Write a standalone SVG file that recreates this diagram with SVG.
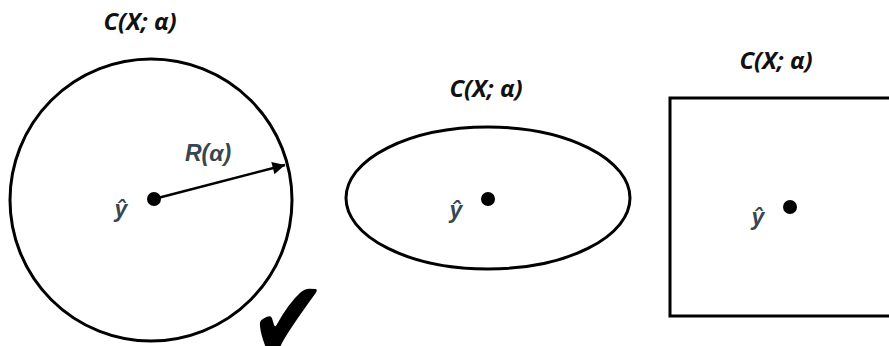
<svg xmlns="http://www.w3.org/2000/svg" width="889" height="346" viewBox="0 0 889 346">
<style>
.shape{fill:none;stroke:#000;stroke-width:3}
.dot{fill:#000}
.title{font-family:"Open Sans",sans-serif;font-weight:bold;font-style:italic;font-size:24px;fill:#111;text-anchor:middle}
.lbl{font-family:"Liberation Sans",Arial,sans-serif;font-weight:bold;font-style:italic;font-size:23px;fill:#37474f;text-anchor:middle}
.conn{stroke:#000;stroke-width:2.5;fill:none}
</style>
<defs>
<marker id="ah" viewBox="0 0 10 10" refX="10" refY="5" markerWidth="6" markerHeight="5" markerUnits="strokeWidth" orient="auto">
<path d="M0,0 L10,5 L0,10 z" fill="#000"/>
</marker>
</defs>
<rect width="889" height="346" fill="#fff"/>
<g id="circle-node">
<text class="title" x="140" y="30">C(X; α)</text>
<circle class="shape" cx="151" cy="200" r="141"/>
<circle class="dot" cx="154" cy="199" r="7"/>
<text class="lbl" x="121" y="217">ŷ</text>
<text class="lbl" x="208" y="161">R(α)</text>
</g>
<g id="ellipse-node">
<text class="title" x="486" y="97">C(X; α)</text>
<ellipse class="shape" cx="488" cy="198" rx="142" ry="71"/>
<circle class="dot" cx="488" cy="199" r="7"/>
<text class="lbl" x="456" y="218">ŷ</text>
</g>
<g id="rect-node">
<text class="title" x="776" y="69">C(X; α)</text>
<rect class="shape" x="670" y="98" width="230" height="218"/>
<circle class="dot" cx="790" cy="207" r="7"/>
<text class="lbl" x="758" y="225">ŷ</text>
</g>
<g id="check">
<text transform="translate(249,360) scale(1,1.2)" font-family="DejaVu Sans,sans-serif" font-size="94" fill="#000">✔</text>
</g>
<g id="connectors">
<line class="conn" x1="154" y1="199" x2="285" y2="165" marker-end="url(#ah)"/>
</g>
</svg>
